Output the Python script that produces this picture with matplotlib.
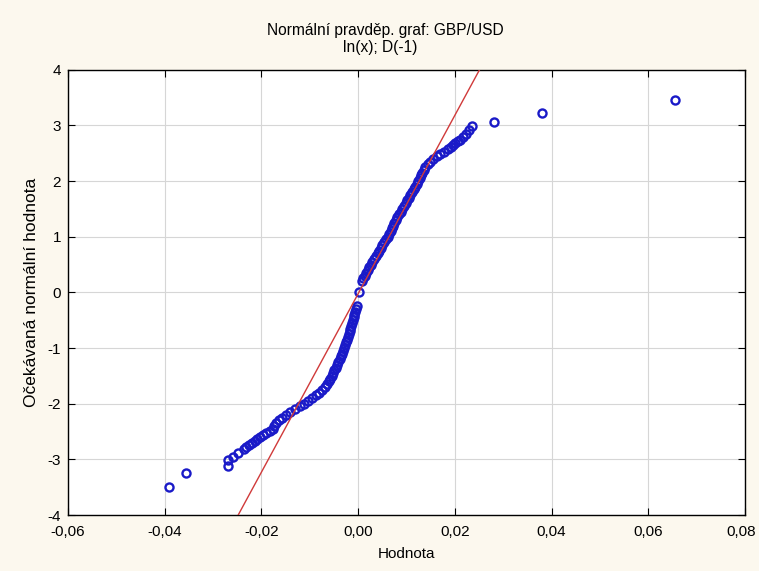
import matplotlib.pyplot as plt
from matplotlib.ticker import FuncFormatter, MultipleLocator
from matplotlib.transforms import ScaledTranslation

# Vzestupne serazene hodnoty ln(x); D(-1) a jejich ocekavane normalni hodnoty
hodnota_dolni = [
    -0.0391, -0.0356, -0.0269, -0.0269, -0.0259, -0.0248, -0.0236, -0.0231,
    -0.0225, -0.0220, -0.0214, -0.0209, -0.0204, -0.0197, -0.0190, -0.0182,
    -0.0177, -0.0173, -0.0169, -0.0164, -0.0157, -0.0149, -0.0140, -0.0130,
    -0.0120, -0.0111, -0.0103, -0.0095, -0.0087, -0.0080, -0.0074, -0.0069,
    -0.0065, -0.0061, -0.0058, -0.0055, -0.0052, -0.0049, -0.0046, -0.0043,
    -0.0041, -0.0038, -0.0036, -0.0034, -0.0031, -0.0029, -0.0027, -0.0025,
    -0.0023, -0.0021, -0.0019, -0.0017, -0.0016, -0.0014, -0.0012, -0.0011,
    -0.0009, -0.0008, -0.0006, -0.0005, -0.0003,
]
normal_dolni = [
    -3.49, -3.25, -3.12, -3.01, -2.95, -2.88, -2.82, -2.78,
    -2.74, -2.71, -2.67, -2.63, -2.59, -2.56, -2.53, -2.49,
    -2.45, -2.40, -2.35, -2.30, -2.25, -2.20, -2.15, -2.10,
    -2.05, -2.00, -1.95, -1.90, -1.85, -1.80, -1.75, -1.70,
    -1.65, -1.60, -1.55, -1.50, -1.45, -1.40, -1.35, -1.30,
    -1.25, -1.20, -1.15, -1.10, -1.05, -1.00, -0.95, -0.90,
    -0.85, -0.80, -0.75, -0.70, -0.65, -0.60, -0.55, -0.50,
    -0.45, -0.40, -0.35, -0.30, -0.25,
]

hodnota_stred = [0.0002]
normal_stred = [0.0]

hodnota_horni = [
    0.0008, 0.0011, 0.0014, 0.0017, 0.0020, 0.0023, 0.0026, 0.0029,
    0.0033, 0.0036, 0.0040, 0.0043, 0.0047, 0.0050, 0.0054, 0.0057,
    0.0061, 0.0064, 0.0067, 0.0069, 0.0072, 0.0075, 0.0078, 0.0081,
    0.0084, 0.0088, 0.0091, 0.0095, 0.0098, 0.0101, 0.0105, 0.0108,
    0.0111, 0.0115, 0.0118, 0.0121, 0.0124, 0.0127, 0.0130, 0.0133,
    0.0136, 0.0139, 0.0144, 0.0149, 0.0155, 0.0162, 0.0169, 0.0177,
    0.0185, 0.0191, 0.0196, 0.0201, 0.0206, 0.0211, 0.0217, 0.0223,
    0.0229, 0.0236, 0.0281, 0.0380, 0.0656,
]
normal_horni = [
    0.20, 0.25, 0.30, 0.35, 0.40, 0.45, 0.50, 0.55,
    0.60, 0.65, 0.70, 0.75, 0.80, 0.85, 0.90, 0.95,
    1.00, 1.05, 1.10, 1.15, 1.20, 1.25, 1.30, 1.35,
    1.40, 1.45, 1.50, 1.55, 1.60, 1.65, 1.70, 1.75,
    1.80, 1.85, 1.90, 1.95, 2.00, 2.05, 2.10, 2.15,
    2.20, 2.25, 2.30, 2.35, 2.40, 2.45, 2.49, 2.53,
    2.57, 2.61, 2.65, 2.68, 2.71, 2.74, 2.79, 2.84,
    2.92, 2.98, 3.06, 3.22, 3.45,
]

# parametry primky normalniho rozdeleni
primka_stred = 0.00015
primka_sigma = 0.00624

x_ticky = [-0.06, -0.04, -0.02, 0.0, 0.02, 0.04, 0.06, 0.08]

hodnota = hodnota_dolni + hodnota_stred + hodnota_horni
normal = normal_dolni + normal_stred + normal_horni

plt.rcParams['font.family'] = ['Liberation Sans', 'DejaVu Sans']

fig = plt.figure(figsize=(7.59, 5.71), dpi=100, facecolor='#fcf8ee')
ax = fig.add_axes([0.0896, 0.098, 0.892, 0.780])
ax.set_facecolor('white')

ax.plot(hodnota, normal, linestyle='none', marker='o', markersize=5.8,
        markerfacecolor='none', markeredgecolor='#1a1ac8', markeredgewidth=1.7,
        zorder=3)

# ocekavana primka: y = (x - stred) / sigma
ax.axline((primka_stred, 0), slope=1 / primka_sigma, color='#d03a3a',
          linewidth=1, zorder=4)

ax.set_xlim(-0.06, 0.08)
ax.set_ylim(-4, 4)
ax.set_xticks(x_ticky)
ax.yaxis.set_major_locator(MultipleLocator(1))
ax.xaxis.set_major_formatter(FuncFormatter(lambda v, p: f"{v:.2f}".replace('.', ',').replace('-0,00', '0,00')))
ax.yaxis.set_major_formatter(FuncFormatter(lambda v, p: f"{v:.0f}"))

ax.grid(True, color='#d6d6d6', linewidth=0.8)
ax.set_axisbelow(True)
ax.tick_params(direction='in', length=5, width=0.8, top=True, right=True,
               labelsize=11)
ax.tick_params(axis='x', pad=7)
ax.tick_params(axis='y', pad=5)
for s in ax.spines.values():
    s.set_linewidth(1)
    s.set_color('black')

# posledni popisek osy x trochu doleva, aby se vesel do obrazku
posl = ax.xaxis.get_major_ticks()[-1].label1
posl.set_transform(posl.get_transform() + ScaledTranslation(-4 / 100, 0, fig.dpi_scale_trans))

ax.set_xlabel('Hodnota', fontsize=11, labelpad=6)
ax.set_ylabel('Očekávaná normální hodnota', fontsize=12.5, labelpad=6)

fig.text(0.508, 0.947, 'Normální pravděp. graf: GBP/USD', ha='center', va='center', fontsize=11.2)
fig.text(0.501, 0.916, 'ln(x); D(-1)', ha='center', va='center', fontsize=11.2)

fig.savefig('out.png', dpi=100, facecolor=fig.get_facecolor())
